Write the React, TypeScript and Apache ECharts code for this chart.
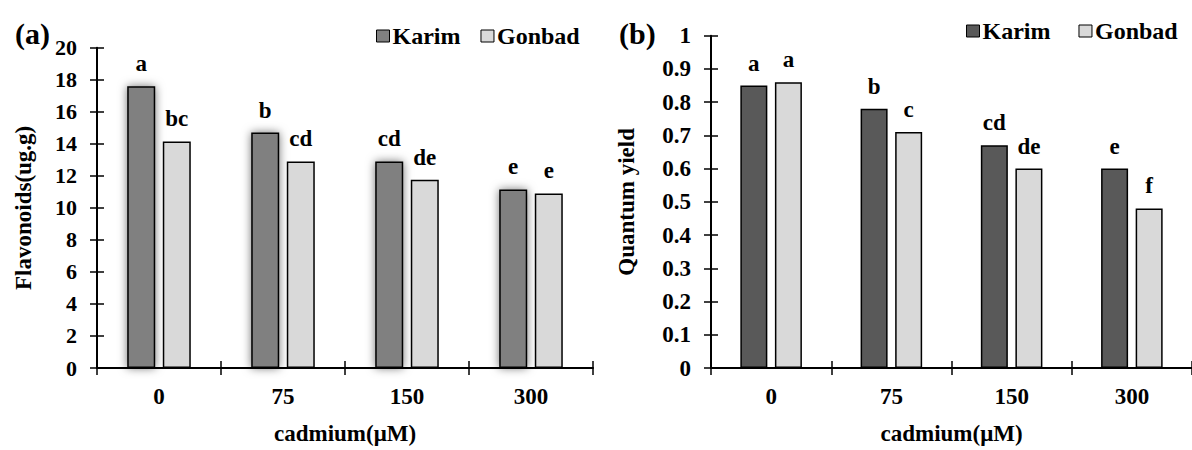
import React, { useEffect, useRef } from "react";
import * as echarts from "echarts";

const categories = ["0", "75", "150", "300"];
const flavKarim = [17.6, 14.7, 12.9, 11.15];
const flavGonbad = [14.15, 12.9, 11.75, 10.9];
const flavKarimLetters = ["a", "b", "cd", "e"];
const flavGonbadLetters = ["bc", "cd", "de", "e"];
const qyKarim = [0.85, 0.78, 0.67, 0.6];
const qyGonbad = [0.86, 0.71, 0.6, 0.48];
const qyKarimLetters = ["a", "b", "cd", "e"];
const qyGonbadLetters = ["a", "c", "de", "f"];

const FONT = "Liberation Serif, Times New Roman, serif";

export default function App() {
  const ref = useRef<HTMLDivElement>(null);
  useEffect(() => {
    document.body.style.margin = "0";
    const chart = echarts.init(ref.current!, null, { renderer: "svg" });
    const black = "#000";
    const mainX = (gridIndex: number) => ({
      type: "category",
      gridIndex,
      position: "bottom",
      data: categories,
      axisLine: { show: true, lineStyle: { color: black, width: 2 } },
      axisTick: { show: true, length: 7, lineStyle: { color: black, width: 1.5 } },
      axisLabel: { color: black, fontFamily: FONT, fontWeight: "bold", fontSize: 23, margin: 17 },
      name: "cadmium(μM)",
      nameLocation: "middle",
      nameGap: 54,
      nameTextStyle: { color: black, fontFamily: FONT, fontWeight: "bold", fontSize: 23 },
    });
    const dupX = (gridIndex: number) => ({
      type: "category",
      gridIndex,
      position: "bottom",
      data: categories,
      axisLine: { show: false },
      axisTick: { show: true, inside: true, length: 7, lineStyle: { color: black, width: 1.5 } },
      axisLabel: { show: false },
    });
    const mainY = (gridIndex: number, max: number, interval: number, name: string, nameGap: number, fs: number) => ({
      type: "value",
      gridIndex,
      position: "left",
      min: 0,
      max,
      interval,
      splitLine: { show: false },
      axisLine: { show: true, lineStyle: { color: black, width: 2 } },
      axisTick: { show: true, length: 7, lineStyle: { color: black, width: 1.5 } },
      axisLabel: { color: black, fontFamily: FONT, fontWeight: "bold", fontSize: fs, margin: 20 },
      name,
      nameLocation: "middle",
      nameRotate: 90,
      nameGap,
      nameTextStyle: { color: black, fontFamily: FONT, fontWeight: "bold", fontSize: 23 },
    });
    const dupY = (gridIndex: number, max: number, interval: number) => ({
      type: "value",
      gridIndex,
      position: "left",
      min: 0,
      max,
      interval,
      splitLine: { show: false },
      axisLine: { show: false },
      axisTick: { show: true, inside: true, length: 7, lineStyle: { color: black, width: 1.5 } },
      axisLabel: { show: false },
    });
    const letterLabel = (letters: string[]) => ({
      show: true,
      position: "top",
      distance: 11,
      color: black,
      fontFamily: FONT,
      fontWeight: "bold",
      fontSize: 23,
      formatter: (p: any) => letters[p.dataIndex],
    });
    const legendText = { color: black, fontFamily: FONT, fontWeight: "bold", fontSize: 24, padding: [0, 0, 0, -2] };
    chart.setOption({
      animation: false,
      backgroundColor: "#fff",
      title: [
        { text: "(a)", left: 10, top: 13, textStyle: { color: black, fontFamily: FONT, fontWeight: "bold", fontSize: 30 } },
        { text: "(b)", left: 614, top: 13, textStyle: { color: black, fontFamily: FONT, fontWeight: "bold", fontSize: 30 } },
      ],
      legend: [
        {
          left: 371,
          top: 19,
          itemWidth: 13,
          itemHeight: 12,
          itemGap: 20,
          icon: "rect",
          textStyle: legendText,
          data: [
            { name: "Karim", itemStyle: { color: "#808080", borderColor: black, borderWidth: 1 } },
            { name: "Gonbad", itemStyle: { color: "#d9d9d9", borderColor: black, borderWidth: 1 } },
          ],
        },
        {
          left: 961,
          top: 14,
          itemWidth: 13,
          itemHeight: 12,
          itemGap: 28,
          icon: "rect",
          textStyle: legendText,
          data: [
            { name: "Karim", itemStyle: { color: "#595959", borderColor: black, borderWidth: 1 } },
            { name: "Gonbad", itemStyle: { color: "#d9d9d9", borderColor: black, borderWidth: 1 } },
          ],
        },
      ],
      grid: [
        { left: 97, top: 47.7, width: 496, height: 320.6 },
        { left: 711, top: 35.7, width: 487, height: 335.7 },
      ],
      xAxis: [mainX(0), dupX(0), mainX(1), dupX(1)],
      yAxis: [
        mainY(0, 20, 2, "Flavonoids(ug.g)", 62, 22),
        dupY(0, 20, 2),
        mainY(1, 1, 0.1, "Quantum yield", 73, 23),
        dupY(1, 1, 0.1),
      ],
      series: [
        {
          type: "bar",
          name: "Karim",
          xAxisIndex: 0,
          yAxisIndex: 0,
          data: flavKarim,
          barWidth: 28,
          barGap: "27%",
          itemStyle: { color: "#808080", borderColor: black, borderWidth: 1.5, shadowBlur: 10, shadowColor: "rgba(0,0,0,0.55)" },
          label: letterLabel(flavKarimLetters),
        },
        {
          type: "bar",
          name: "Gonbad",
          xAxisIndex: 0,
          yAxisIndex: 0,
          data: flavGonbad,
          barWidth: 28,
          barGap: "27%",
          itemStyle: { color: "#d9d9d9", borderColor: black, borderWidth: 1.5 },
          label: letterLabel(flavGonbadLetters),
        },
        {
          type: "bar",
          name: "Karim",
          xAxisIndex: 2,
          yAxisIndex: 2,
          data: qyKarim,
          barWidth: 27,
          barGap: "28%",
          itemStyle: { color: "#595959", borderColor: black, borderWidth: 1.5 },
          label: letterLabel(qyKarimLetters),
        },
        {
          type: "bar",
          name: "Gonbad",
          xAxisIndex: 2,
          yAxisIndex: 2,
          data: qyGonbad,
          barWidth: 27,
          barGap: "28%",
          itemStyle: { color: "#d9d9d9", borderColor: black, borderWidth: 1.5 },
          label: letterLabel(qyGonbadLetters),
        },
      ],
    });
    return () => chart.dispose();
  }, []);
  return <div ref={ref} style={{ width: 1192, height: 450 }} />;
}
